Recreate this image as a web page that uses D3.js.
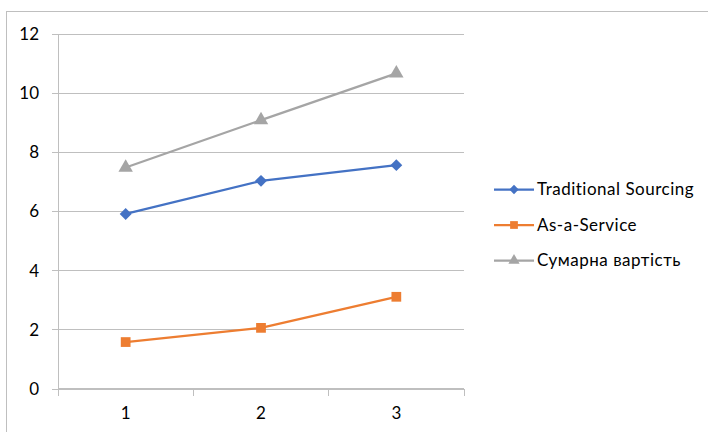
<!DOCTYPE html>
<html>
<head>
<meta charset="utf-8">
<script src="https://cdn.jsdelivr.net/npm/d3@7"></script>
<style>
  html, body { margin: 0; padding: 0; background: #fff; }
  svg { display: block; }
  text { font-family: Lato, "Liberation Sans", sans-serif; fill: #000; }
</style>
</head>
<body>
<svg id="chart" width="708" height="432"></svg>
<script>
// Categories along the x axis
const categories = ["1", "2", "3"];
// Series values
const traditional = [5.9, 7.02, 7.55];
const asAService = [1.57, 2.05, 3.1];
const total = [7.47, 9.07, 10.65];
// Y axis ticks
const yTicks = [0, 2, 4, 6, 8, 10, 12];

const seriesNames = ["Traditional Sourcing", "As-a-Service", "Сумарна вартість"];
const seriesColors = ["#4472C4", "#ED7D31", "#A5A5A5"];
const seriesSymbols = [d3.symbolDiamond2, d3.symbolSquare, d3.symbolTriangle];
const seriesValues = [traditional, asAService, total];

const svg = d3.select("#chart");
const W = 708, H = 432;
const plot = { left: 58, right: 464, top: 33.5, bottom: 388.5 };
const fontSize = 17;

// Chart frame
svg.append("rect")
  .attr("x", 6.5).attr("y", 11.5)
  .attr("width", W + 10).attr("height", H + 10)
  .attr("fill", "none").attr("stroke", "#BFBFBF").attr("stroke-width", 1);

const x = d3.scaleBand().domain(categories).range([plot.left, plot.right]).padding(0);
const y = d3.scaleLinear().domain([0, 12]).range([plot.bottom, plot.top]);

// Horizontal gridlines with small ticks to the left
const yAxis = d3.axisLeft(y).tickValues(yTicks).tickSize(-(plot.right - plot.left)).tickFormat(d3.format("d"));
const gy = svg.append("g").attr("transform", `translate(${plot.left},0)`).call(yAxis);
gy.select(".domain").remove();
gy.selectAll(".tick line").attr("stroke", "#BFBFBF").attr("stroke-width", 1)
  .attr("x1", -6).attr("shape-rendering", "crispEdges");
gy.selectAll(".tick text").attr("font-size", fontSize).attr("font-family", "Lato, sans-serif")
  .attr("fill", "#000").attr("dy", "0.35em").attr("x", -19);

// Vertical axis line
svg.append("line")
  .attr("x1", plot.left).attr("x2", plot.left)
  .attr("y1", plot.top).attr("y2", plot.bottom)
  .attr("stroke", "#BFBFBF").attr("shape-rendering", "crispEdges");

// X axis with category boundary ticks
const gx = svg.append("g").attr("transform", `translate(0,${plot.bottom})`);
gx.append("line").attr("x1", plot.left).attr("x2", plot.right)
  .attr("stroke", "#BFBFBF").attr("shape-rendering", "crispEdges");
const boundaries = categories.map(c => x(c)).concat([plot.right]);
gx.selectAll("line.b").data(boundaries).join("line").attr("class", "b")
  .attr("x1", d => d).attr("x2", d => d).attr("y1", 0).attr("y2", 7)
  .attr("stroke", "#BFBFBF").attr("shape-rendering", "crispEdges");
gx.selectAll("text").data(categories).join("text")
  .attr("x", d => x(d) + x.bandwidth() / 2)
  .attr("y", 30)
  .attr("text-anchor", "middle")
  .attr("font-size", fontSize)
  .text(d => d);

// Series lines and markers (drawn so the first series ends on top)
const line = d3.line().x((d, i) => x(categories[i]) + x.bandwidth() / 2).y(d => y(d));
[2, 1, 0].forEach(s => {
  const g = svg.append("g");
  g.append("path").datum(seriesValues[s])
    .attr("d", line).attr("fill", "none")
    .attr("stroke", seriesColors[s]).attr("stroke-width", 2.25)
    .attr("stroke-linejoin", "round");
  g.selectAll("path.m").data(seriesValues[s]).join("path").attr("class", "m")
    .attr("transform", (d, i) => `translate(${x(categories[i]) + x.bandwidth() / 2},${y(d)})`)
    .attr("d", d3.symbol().type(seriesSymbols[s]).size(s === 1 ? 95 : 90))
    .attr("fill", seriesColors[s]);
});

// Legend
const legendRows = [189.5, 225, 260.5];
const lg = svg.append("g");
seriesNames.forEach((name, s) => {
  const ly = legendRows[s];
  lg.append("line").attr("x1", 494).attr("x2", 534).attr("y1", ly).attr("y2", ly)
    .attr("stroke", seriesColors[s]).attr("stroke-width", 2.25);
  lg.append("path").attr("transform", `translate(514,${ly})`)
    .attr("d", d3.symbol().type(seriesSymbols[s]).size(s === 1 ? 60 : 55))
    .attr("fill", seriesColors[s]);
  lg.append("text").attr("x", 537).attr("y", ly).attr("dy", "0.35em")
    .attr("font-size", fontSize).attr("letter-spacing", 0.5).text(name);
});
</script>
</body>
</html>
